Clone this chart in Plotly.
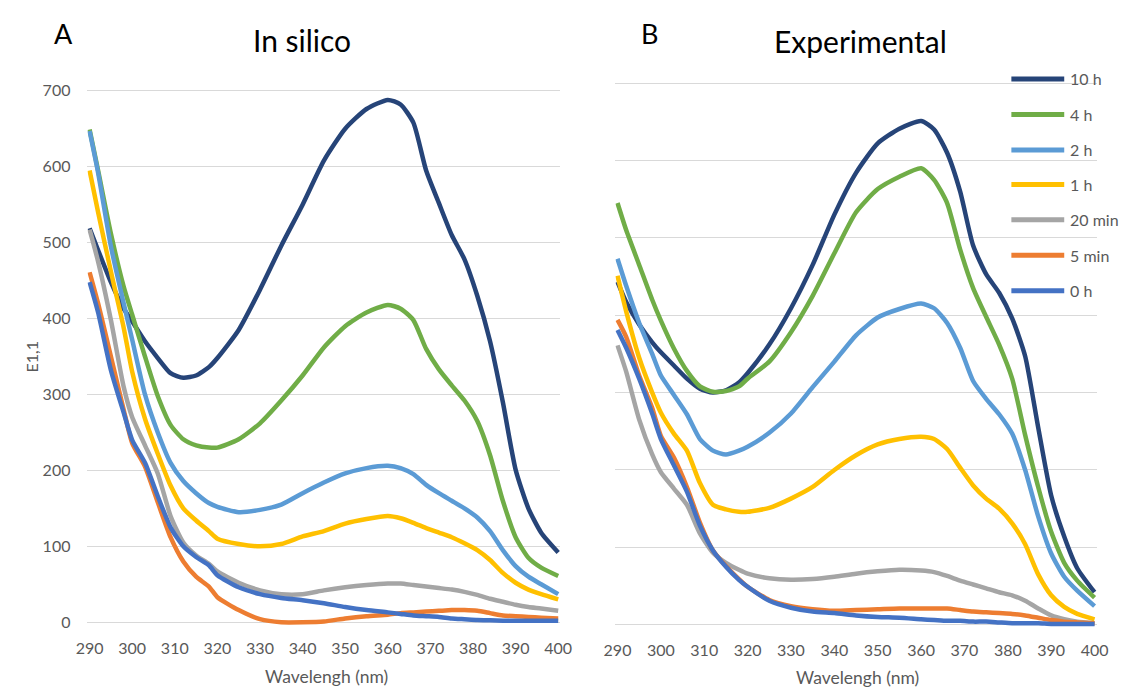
import plotly.graph_objects as go

# Shared wavelength grid (nm) for both panels
wavelength = [290, 292, 295, 298, 300, 303, 306, 309, 312, 315, 318, 320, 325, 330, 335,
              340, 345, 350, 355, 360, 363, 366, 369, 372, 375, 378, 381, 384, 387, 390,
              393, 396, 400]

series_names = ["10 h", "4 h", "2 h", "1 h", "20 min", "5 min", "0 h"]
series_colors = ["#264478", "#70AD47", "#5B9BD5", "#FFC000", "#A5A5A5", "#ED7D31", "#4472C4"]

x_ticks = [290, 300, 310, 320, 330, 340, 350, 360, 370, 380, 390, 400]
y_ticks = [0, 100, 200, 300, 400, 500, 600, 700]

# Panel A - in silico spectra (E1,1)
insilico_10h = [519, 490, 448, 413, 396, 370, 348, 328, 322, 325, 336, 348, 385, 438, 496,
                550, 608, 650, 676, 688, 682, 658, 595, 552, 510, 478, 430, 370, 290, 201,
                150, 118, 92]
insilico_4h = [649, 595, 512, 442, 405, 350, 298, 260, 241, 233, 230, 230, 241, 262, 292,
               325, 362, 390, 408, 418, 413, 398, 360, 333, 312, 292, 265, 220, 160, 112,
               85, 72, 61]
insilico_2h = [647, 592, 495, 420, 372, 300, 250, 210, 186, 170, 157, 152, 145, 148, 155,
               170, 184, 196, 203, 206, 203, 195, 181, 170, 160, 150, 138, 120, 95, 74,
               60, 50, 37]
insilico_1h = [595, 540, 462, 388, 330, 268, 222, 180, 150, 134, 120, 110, 103, 100, 103,
               113, 120, 130, 136, 140, 137, 131, 124, 118, 112, 104, 95, 82, 65, 52,
               43, 37, 30]
insilico_20min = [517, 475, 398, 310, 270, 233, 196, 140, 105, 88, 77, 67, 52, 42, 37,
                  37, 42, 46, 49, 51, 51, 49, 47, 45, 43, 40, 36, 31, 27, 23,
                  20, 18, 15]
insilico_5min = [461, 420, 350, 280, 236, 205, 158, 112, 80, 60, 47, 33, 16, 4, 0,
                 0, 1, 5, 8, 10, 12, 13, 14, 15, 16, 16, 15, 12, 9, 8,
                 7, 6, 5]
insilico_0h = [448, 408, 332, 276, 240, 210, 166, 125, 100, 86, 75, 62, 46, 37, 32,
               29, 25, 20, 16, 13, 11, 9, 8, 7, 5, 4, 3, 2.5, 2, 2,
               2, 2, 2]

# Panel B - experimental spectra (E1,1)
exp_10h = [443, 417, 388, 365, 352, 335, 318, 305, 300, 303, 313, 325, 362, 409, 465,
           530, 584, 622, 641, 651, 640, 610, 560, 490, 453, 429, 396, 347, 255, 167,
           114, 73, 42]
exp_4h = [545, 510, 465, 420, 393, 357, 328, 308, 301, 302, 308, 318, 340, 378, 425,
          480, 533, 563, 579, 590, 575, 545, 485, 435, 398, 362, 318, 245, 178, 120,
          80, 57, 35]
exp_2h = [473, 438, 390, 350, 322, 297, 272, 240, 225, 220, 225, 230, 248, 273, 307,
          340, 374, 397, 408, 415, 409, 390, 358, 315, 292, 272, 247, 200, 140, 92,
          62, 44, 24]
exp_1h = [451, 405, 345, 300, 274, 247, 225, 183, 155, 149, 146, 146, 151, 163, 178,
          200, 219, 233, 240, 243, 240, 227, 203, 180, 163, 150, 131, 104, 65, 38,
          23, 14, 7]
exp_20min = [361, 327, 265, 220, 197, 176, 155, 118, 93, 80, 71, 66, 60, 58, 59,
             62, 66, 69, 71, 70, 68, 63, 57, 52, 47, 42, 38, 31, 21, 12,
             7, 4, 2]
exp_5min = [394, 372, 322, 280, 244, 216, 178, 132, 96, 76, 59, 49, 32, 24, 20,
            18, 19, 20, 21, 21, 21, 21, 19, 17, 16, 15, 14, 12, 9, 6,
            4, 3, 2]
exp_0h = [381, 358, 318, 273, 240, 206, 172, 128, 96, 75, 58, 49, 31, 22, 17,
          15, 12, 10, 9, 7, 6, 5, 5, 4, 4, 3, 2, 2, 2, 1,
          1, 1, 1]

insilico = [insilico_10h, insilico_4h, insilico_2h, insilico_1h,
            insilico_20min, insilico_5min, insilico_0h]
experimental = [exp_10h, exp_4h, exp_2h, exp_1h, exp_20min, exp_5min, exp_0h]

W, H = 1133, 692
FONT = "Lato, Carlito, Calibri, sans-serif"
TICK_GREY = "#595959"


def px(x):
    return x / W


def py(y):
    return 1 - y / H


fig = go.Figure()

for name, color, ys in zip(series_names, series_colors, insilico):
    fig.add_trace(go.Scatter(x=wavelength, y=ys, mode="lines", name=name,
                             line=dict(color=color, width=4.5, shape="spline", smoothing=0.6),
                             xaxis="x", yaxis="y", showlegend=False, hoverinfo="skip"))
for name, color, ys in zip(series_names, series_colors, experimental):
    fig.add_trace(go.Scatter(x=wavelength, y=ys, mode="lines", name=name,
                             line=dict(color=color, width=4.5, shape="spline", smoothing=0.6),
                             xaxis="x2", yaxis="y2", showlegend=False, hoverinfo="skip"))

axis_common = dict(showline=False, zeroline=False, ticks="",
                   tickfont=dict(family=FONT, size=16, color=TICK_GREY))

fig.update_layout(
    width=W, height=H,
    margin=dict(l=0, r=0, t=0, b=0),
    paper_bgcolor="white", plot_bgcolor="white",
    showlegend=False, hovermode=False,
    xaxis=dict(domain=[px(77.1), px(560.2)], range=[289.5, 400.5], tickvals=x_ticks,
               showgrid=False, anchor="y", ticklabelstandoff=10, **axis_common),
    yaxis=dict(domain=[py(629.9), py(81.4)], range=[-6, 706], tickvals=y_ticks,
               showgrid=True, gridcolor="#D9D9D9", gridwidth=1, anchor="x",
               ticklabelstandoff=16, **axis_common),
    xaxis2=dict(domain=[px(616.4), px(1108.2)], range=[289.5, 400.5], tickvals=x_ticks,
                showgrid=False, anchor="y2", ticklabelstandoff=10, **axis_common),
    yaxis2=dict(domain=[py(632.5), py(73.5)], range=[-6, 706], tickvals=y_ticks,
                showgrid=True, gridcolor="#D9D9D9", gridwidth=1, anchor="x2",
                showticklabels=False, **axis_common),
)

annotations = [
    dict(text="A", x=px(53), y=py(28), font=dict(size=27, color="black")),
    dict(text="In silico", x=px(296), y=py(34), font=dict(size=30, color="black")),
    dict(text="B", x=px(651), y=py(28), font=dict(size=27, color="black")),
    dict(text="Experimental", x=px(867), y=py(36), font=dict(size=30, color="black")),
    dict(text="Wavelengh (nm)", x=px(321), y=py(680), font=dict(size=17.5, color=TICK_GREY)),
    dict(text="Wavelengh (nm)", x=px(864), y=py(681), font=dict(size=17.5, color=TICK_GREY)),
    dict(text="E1,1", x=px(20), y=py(356), textangle=-90, font=dict(size=16, color=TICK_GREY)),
]
for a in annotations:
    a.update(xref="paper", yref="paper", showarrow=False, xanchor="center", yanchor="middle")
    a["font"]["family"] = FONT
    fig.add_annotation(**a)

# Legend drawn at the upper right of panel B
legend_y = [74, 110, 146, 181, 217, 253, 289]
for name, color, ly in zip(series_names, series_colors, legend_y):
    fig.add_shape(type="line", xref="paper", yref="paper",
                  x0=px(1021), x1=px(1075), y0=py(ly), y1=py(ly),
                  line=dict(color=color, width=5))
    fig.add_annotation(text=name, xref="paper", yref="paper", x=px(1079), y=py(ly),
                       xanchor="left", yanchor="middle", showarrow=False,
                       font=dict(family=FONT, size=16, color=TICK_GREY))

fig.write_html("out.html")
